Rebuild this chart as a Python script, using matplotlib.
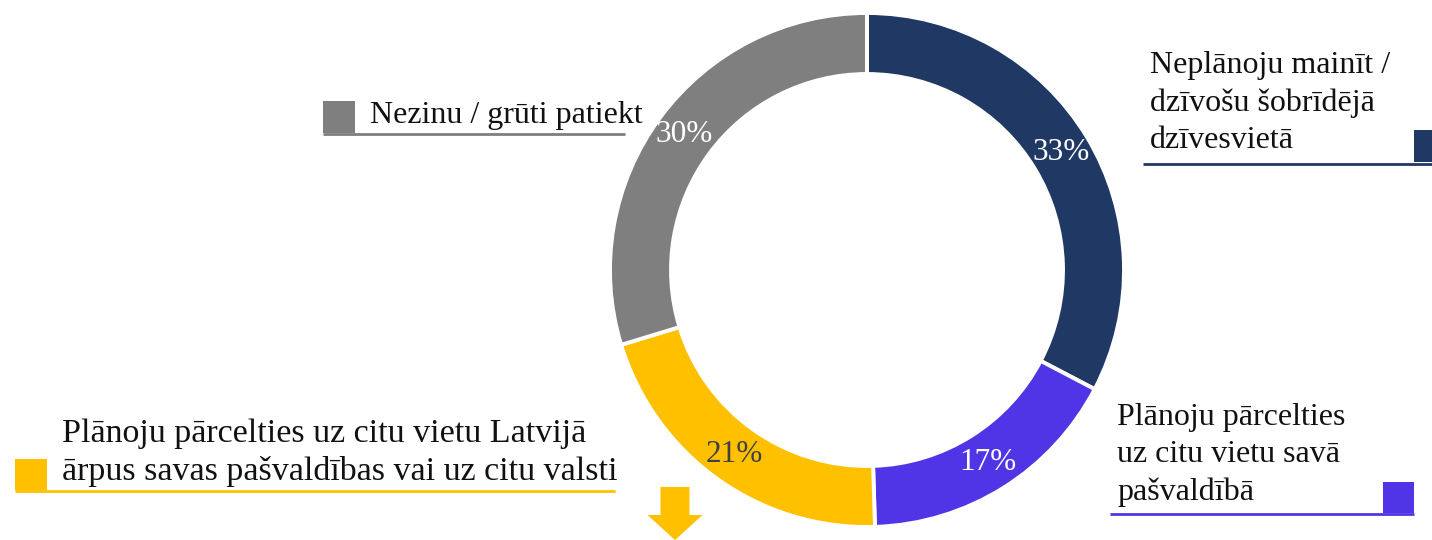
import matplotlib
matplotlib.use("Agg")
import matplotlib.pyplot as plt
from matplotlib.patches import Rectangle

# ---- data ----
categories = [
    "Neplānoju mainīt /\ndzīvošu šobrīdējā\ndzīvesvietā",
    "Plānoju pārcelties\nuz citu vietu savā\npašvaldībā",
    "Plānoju pārcelties uz citu vietu Latvijā\nārpus savas pašvaldības vai uz citu valsti",
    "Nezinu / grūti patiekt",
]
values = [33, 17, 21, 30]
colors = ["#203864", "#5035E6", "#FFC000", "#7F7F7F"]
pct_colors = ["white", "white", "#404040", "white"]

W, H = 1432, 540
FONT = "Liberation Serif"

fig = plt.figure(figsize=(W / 100, H / 100), dpi=100)
ax = fig.add_axes([0, 0, 1, 1])

def Y(y):  # pixel y (top-down) -> data y
    return H - y

total = sum(values)
cx, cy, R = 867, Y(270), 257
wedges, texts, autotexts = ax.pie(
    values, colors=colors, startangle=90, counterclock=False,
    center=(cx, cy), radius=R,
    wedgeprops=dict(width=R - 196, edgecolor="white", linewidth=2.8),
    autopct=lambda p: f"{p * total / 100:.0f}%", pctdistance=0.885,
    textprops=dict(family=FONT, fontsize=22.5),
)
for t, c in zip(autotexts, pct_colors):
    t.set_color(c)

ax.set_xlim(0, W)
ax.set_ylim(0, H)
ax.set_aspect("auto")
ax.axis("off")

# ---- legend-like labels ----
# (text_x, first_baseline_y, line_step, fontsize, square(x0,y0,x1,y1), underline(x0,x1,y))
labels_layout = [
    (1150, 73, 37.5, 23, (1414, 130, 1450, 162), (1143, 1432, 164)),
    (1117, 425, 37.5, 23, (1383, 482, 1414, 513), (1110, 1414, 514)),
    (62, 442, 38, 24.5, (15, 459, 47, 490), (15, 615, 491)),
    (370, 123, 0, 23, (323, 101, 355, 133), (323, 625, 134)),
]
for cat, col, (tx, ty, step, fs, sq, ul) in zip(categories, colors, labels_layout):
    for i, line in enumerate(cat.split("\n")):
        ax.text(tx, Y(ty + i * step), line, family=FONT, fontsize=fs,
                color="#111111", ha="left", va="baseline")
    x0, y0, x1, y1 = sq
    ax.add_patch(Rectangle((x0, Y(y1)), x1 - x0, y1 - y0, color=col, lw=0,
                           clip_on=False))
    ax.plot([ul[0], ul[1]], [Y(ul[2]), Y(ul[2])], color=col, lw=2,
            solid_capstyle="butt")

# ---- arrow ----
ax.arrow(675, Y(487), 0, -53, width=29, head_width=55, head_length=25,
         length_includes_head=True, color=colors[2], lw=0)

fig.savefig("out.png", dpi=100, facecolor="white")
